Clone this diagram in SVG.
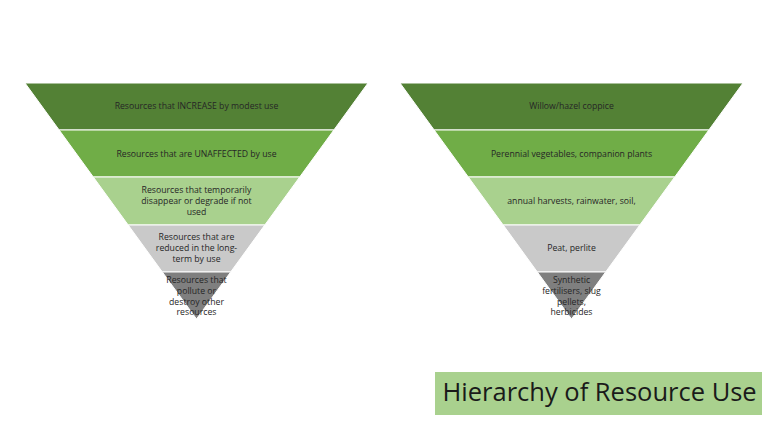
<svg xmlns="http://www.w3.org/2000/svg" width="768" height="432" viewBox="0 0 768 432">
<style>
.b{stroke:#ffffff;stroke-width:1}
.l1{fill:#538135}.l2{fill:#70AD47}.l3{fill:#A9D18E}.l4{fill:#C9C9C9}.l5{fill:#7F7F7F}
.t{font-family:"Open Sans","Liberation Sans",sans-serif;font-size:8.7px;fill:#262626;text-anchor:middle}
.title{font-family:"Open Sans","Liberation Sans",sans-serif;font-size:25.5px;fill:#1a1a1a}
</style>
<rect width="768" height="432" fill="#ffffff"/>
<g id="left">
<g id="L1"><polygon class="b l1" points="25,83 368,83 333.85,130 59.15,130"/><text class="t" x="196.5" y="109.2">Resources that INCREASE by modest use</text></g>
<g id="L2"><polygon class="b l2" points="59.15,130 333.85,130 299.7,177 93.3,177"/><text class="t" x="196.5" y="156.7">Resources that are UNAFFECTED by use</text></g>
<g id="L3"><polygon class="b l3" points="93.3,177 299.7,177 264.8,225 128.2,225"/><text class="t" x="196.5" y="193.2">Resources that temporarily</text><text class="t" x="196.5" y="204">disappear or degrade if not</text><text class="t" x="196.5" y="214.8">used</text></g>
<g id="L4"><polygon class="b l4" points="128.2,225 264.8,225 230.65,272 162.35,272"/><text class="t" x="196.5" y="240.4">Resources that are</text><text class="t" x="196.5" y="251.2">reduced in the long-</text><text class="t" x="196.5" y="262">term by use</text></g>
<g id="L5"><polygon class="b l5" points="162.35,272 230.65,272 196.5,319"/><text class="t" x="196.5" y="283">Resources that</text><text class="t" x="196.5" y="293.8">pollute or</text><text class="t" x="196.5" y="304.6">destroy other</text><text class="t" x="196.5" y="315.4">resources</text></g>
</g>
<g id="right">
<g id="R1"><polygon class="b l1" points="400,83 743,83 708.85,130 434.15,130"/><text class="t" x="571.5" y="109.2">Willow/hazel coppice</text></g>
<g id="R2"><polygon class="b l2" points="434.15,130 708.85,130 674.7,177 468.3,177"/><text class="t" x="571.5" y="156.7">Perennial vegetables, companion plants</text></g>
<g id="R3"><polygon class="b l3" points="468.3,177 674.7,177 639.8,225 503.2,225"/><text class="t" x="571.5" y="204">annual harvests, rainwater, soil,</text></g>
<g id="R4"><polygon class="b l4" points="503.2,225 639.8,225 605.65,272 537.35,272"/><text class="t" x="571.5" y="251.2">Peat, perlite</text></g>
<g id="R5"><polygon class="b l5" points="537.35,272 605.65,272 571.5,319"/><text class="t" x="571.5" y="283">Synthetic</text><text class="t" x="571.5" y="293.8">fertilisers, slug</text><text class="t" x="571.5" y="304.6">pellets,</text><text class="t" x="571.5" y="315.4">herbicides</text></g>
</g>
<g id="connectors"></g>
<g id="title"><rect x="435" y="372" width="327" height="43" fill="#A9D18E"/><text class="title" x="442.5" y="401">Hierarchy of Resource Use</text></g>
</svg>
